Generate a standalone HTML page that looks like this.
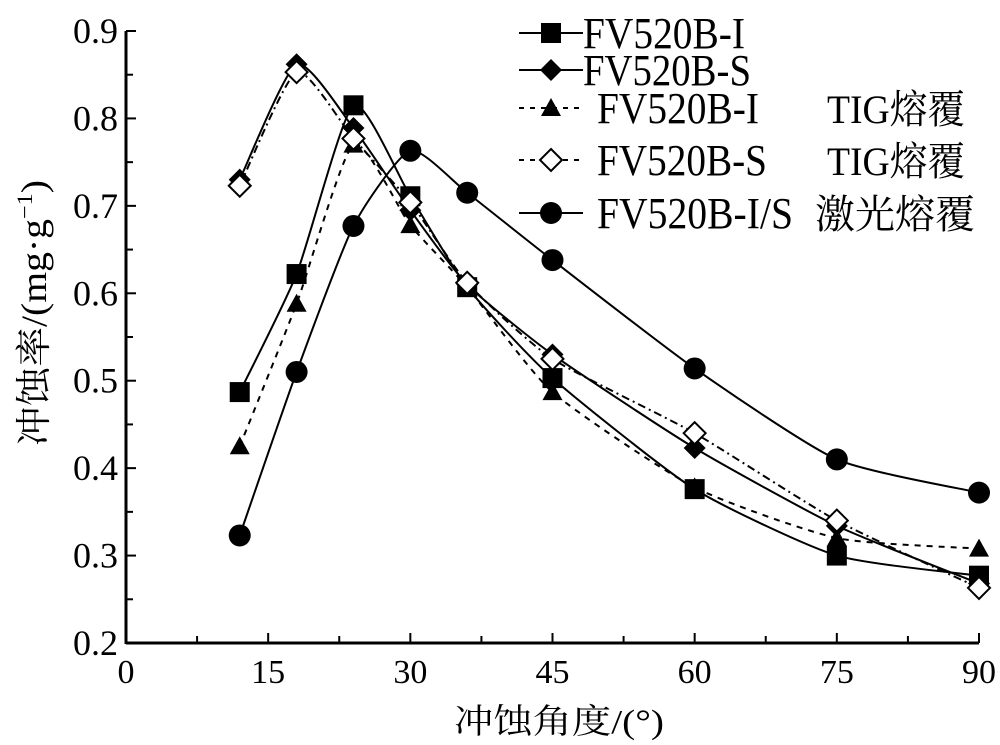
<!DOCTYPE html>
<html><head><meta charset="utf-8"><style>
html,body{margin:0;padding:0;background:#fff;}
svg{display:block;}
text{font-family:"Liberation Serif","Noto Serif CJK SC","Noto Sans CJK SC",serif;fill:#000;}
</style></head><body>
<svg id="chart" width="1000" height="745" viewBox="0 0 1000 745" xmlns="http://www.w3.org/2000/svg">
<g id="axes"></g>
<g id="series"></g>
<g id="legend"></g>
<text x="559" y="733" font-size="34" text-anchor="middle" textLength="210" lengthAdjust="spacingAndGlyphs">冲蚀角度/(°)</text>
<text transform="translate(46,313) rotate(-90)" font-size="36" text-anchor="middle" textLength="266" lengthAdjust="spacingAndGlyphs">冲蚀率/(mg·g<tspan font-size="22" dy="-14">−1</tspan><tspan dy="14">)</tspan></text>
</svg>
<script>
const xCategories = [12, 18, 24, 30, 36, 45, 60, 75, 90];
const seriesI = [0.487, 0.622, 0.815, 0.711, 0.607, 0.503, 0.376, 0.300, 0.277];
const seriesS = [0.730, 0.862, 0.789, 0.695, 0.610, 0.530, 0.423, 0.334, 0.268];
const seriesITig = [0.425, 0.588, 0.770, 0.678, 0.607, 0.487, 0.378, 0.320, 0.308];
const seriesSTig = [0.723, 0.853, 0.777, 0.704, 0.612, 0.525, 0.440, 0.340, 0.263];
const seriesLaser = [0.323, 0.510, 0.677, 0.763, 0.715, 0.638, 0.514, 0.410, 0.372];
const xTickLabels = ["0", "15", "30", "45", "60", "75", "90"];
const yTickLabels = ["0.2", "0.3", "0.4", "0.5", "0.6", "0.7", "0.8", "0.9"];
const legendLabels = ["FV520B-I", "FV520B-S", "FV520B-I", "FV520B-S", "FV520B-I/S"];
const legendSuffix = ["", "", "TIG熔覆", "TIG熔覆", "激光熔覆"];

const NS = "http://www.w3.org/2000/svg";
const X0 = 126, X1 = 979, Y0 = 643, Y1 = 31;
function xs(v){ return X0 + (v - 0) / 90 * (X1 - X0); }
function ys(v){ return Y0 - (v - 0.2) / 0.7 * (Y0 - Y1); }
function mk(tag, attrs, parent){ const e = document.createElementNS(NS, tag); for (const k in attrs) e.setAttribute(k, attrs[k]); parent.appendChild(e); return e; }

const axes = document.getElementById('axes');
let l = mk('line', {x1:X0, y1:Y0, x2:X1, y2:Y0, stroke:'#000', 'stroke-width':3}, axes);


l = mk('line', {x1:X0, y1:Y0+1, x2:X0, y2:Y1, stroke:'#000', 'stroke-width':3}, axes);


for (let i = 0; i <= 12; i++) {
  const v = i * 7.5, x = xs(v), major = i % 2 === 0;
  const t = mk('line', {x1:x, y1:Y0, x2:x, y2:Y0 - (major ? 10 : 7), stroke:'#000', 'stroke-width':2}, axes);
  
  
  if (major) {
    const tx = mk('text', {x:x, y:683, 'font-size':34, 'text-anchor':'middle'}, axes);
    tx.textContent = xTickLabels[i / 2];
    
    
  }
}
for (let i = 0; i <= 14; i++) {
  const v = 0.2 + i * 0.05, y = ys(v), major = i % 2 === 0;
  const t = mk('line', {x1:X0, y1:y, x2:X0 + (major ? 10 : 7), y2:y, stroke:'#000', 'stroke-width':2}, axes);
  
  
  if (major) {
    const tx = mk('text', {x:118, y:y + 12, 'font-size':36, 'text-anchor':'end'}, axes);
    tx.textContent = yTickLabels[i / 2];
    
    
  }
}

function smoothPath(pts){
  let d = `M${pts[0][0]},${pts[0][1]}`;
  for (let i = 0; i < pts.length - 1; i++) {
    const p0 = pts[Math.max(0, i - 1)], p1 = pts[i], p2 = pts[i + 1], p3 = pts[Math.min(pts.length - 1, i + 2)];
    const t = 0.1;
    const c1 = [p1[0] + (p2[0] - p0[0]) * t, p1[1] + (p2[1] - p0[1]) * t];
    const c2 = [p2[0] - (p3[0] - p1[0]) * t, p2[1] - (p3[1] - p1[1]) * t];
    d += ` C${c1[0]},${c1[1]} ${c2[0]},${c2[1]} ${p2[0]},${p2[1]}`;
  }
  return d;
}
function marker(type, x, y, parent){
  let e;
  if (type === 'square') e = mk('rect', {x:x-10, y:y-10, width:20, height:20, fill:'#000'}, parent);
  else if (type === 'diamond') e = mk('polygon', {points:`${x},${y-11} ${x+11},${y} ${x},${y+11} ${x-11},${y}`, fill:'#000'}, parent);
  else if (type === 'triangle') e = mk('polygon', {points:`${x},${y-10} ${x+10},${y+8} ${x-10},${y+8}`, fill:'#000'}, parent);
  else if (type === 'odiamond') e = mk('polygon', {points:`${x},${y-11} ${x+11},${y} ${x},${y+11} ${x-11},${y}`, fill:'#fff', stroke:'#000', 'stroke-width':2}, parent);
  else e = mk('circle', {cx:x, cy:y, r:11, fill:'#000'}, parent);
  return e;
}
const defs = [
  {vals:seriesI, m:'square', dash:'', name:'fv520b-i'},
  {vals:seriesS, m:'diamond', dash:'', name:'fv520b-s'},
  {vals:seriesITig, m:'triangle', dash:'6,6', name:'fv520b-i-tig'},
  {vals:seriesSTig, m:'odiamond', dash:'8,4,2,4', name:'fv520b-s-tig'},
  {vals:seriesLaser, m:'circle', dash:'', name:'fv520b-laser'}
];
const sg = document.getElementById('series');
defs.forEach(s => {
  const g = mk('g', {}, sg);
  
  
  const pts = xCategories.map((c, i) => [xs(c), ys(s.vals[i])]);
  const p = mk('path', {d:smoothPath(pts), fill:'none', stroke:'#000', 'stroke-width':2}, g);
  if (s.dash) p.setAttribute('stroke-dasharray', s.dash);
  
  
  pts.forEach(pt => {
    const e = marker(s.m, pt[0], pt[1], g);
    
    
  });
});

const lg = document.getElementById('legend');
const rowY = [33, 70, 108, 160, 213];
const textX = [583, 583, 597, 597, 597];
const textW = [162, 168, 162, 170, 196];
defs.forEach((s, i) => {
  const g = mk('g', {}, lg);
  
  
  const ln = mk('line', {x1:519, y1:rowY[i], x2:583, y2:rowY[i], stroke:'#000', 'stroke-width':2}, g);
  if (s.dash) ln.setAttribute('stroke-dasharray', '5,6');
  marker(s.m, 551, rowY[i], g);
  const t = mk('text', {x:textX[i], y:rowY[i] + 15, 'font-size':44, textLength:textW[i], lengthAdjust:'spacingAndGlyphs'}, g);
  t.textContent = legendLabels[i];
  if (legendSuffix[i]) {
    const sx = i === 4 ? 815 : 827;
    const t2 = mk('text', {x:sx, y:rowY[i] + 15, 'font-size':40, textLength:(i === 4 ? 160 : 138), lengthAdjust:'spacingAndGlyphs'}, g);
    t2.textContent = legendSuffix[i];
  }
});
</script>
</body></html>
